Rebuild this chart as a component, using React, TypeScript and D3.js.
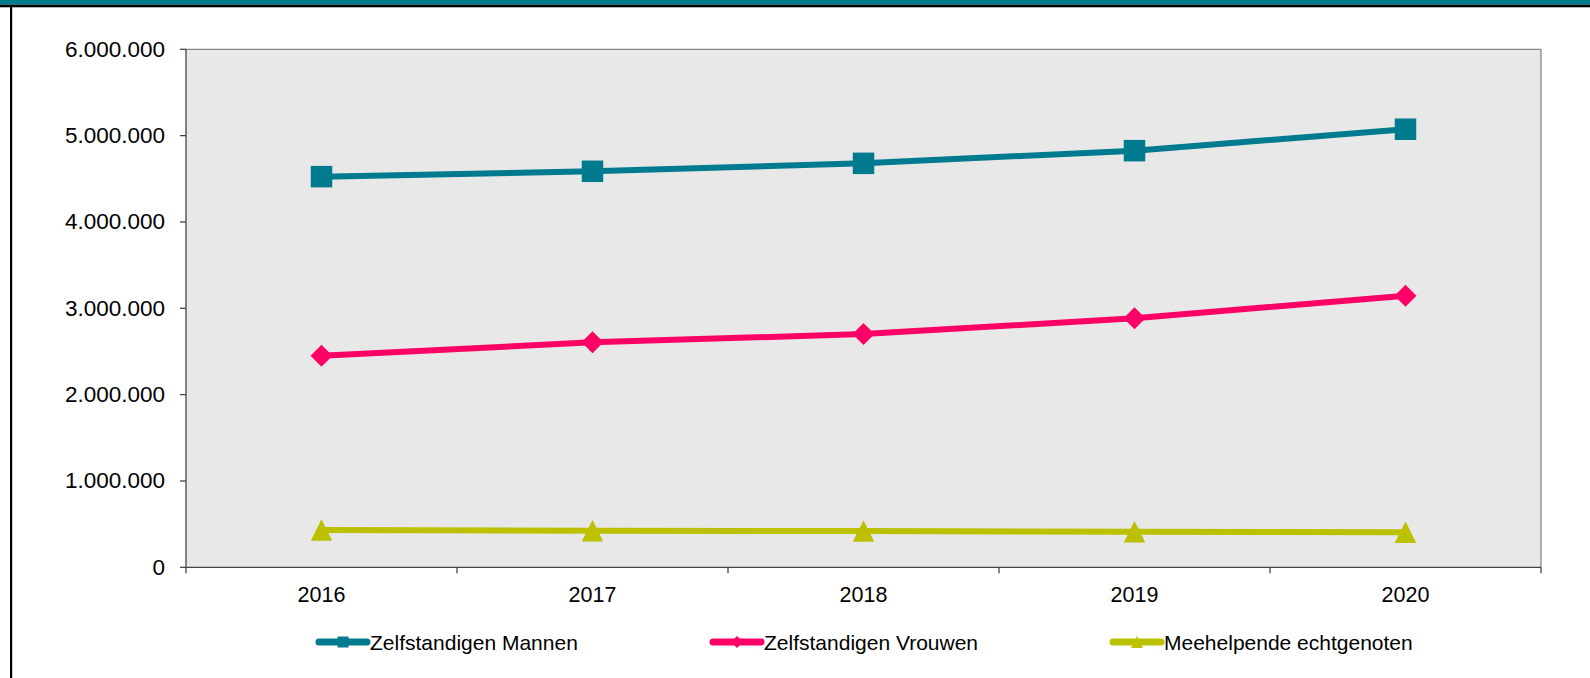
import React from "react";
import * as d3 from "d3";

const years = ["2016", "2017", "2018", "2019", "2020"];
const mannen = [4525000, 4587000, 4679000, 4826000, 5074000];
const vrouwen = [2451000, 2606000, 2702000, 2884000, 3146000];
const meehelpende = [432000, 424000, 420000, 412000, 405000];
const yTicks = [0, 1000000, 2000000, 3000000, 4000000, 5000000, 6000000];
const seriesNames = ["Zelfstandigen Mannen", "Zelfstandigen Vrouwen", "Meehelpende echtgenoten"];

const W = 1590;
const H = 678;
const left = 186;
const right = 1541;
const top = 49.3;
const bottom = 567.3;
const font = "'Liberation Sans', Arial, sans-serif";

const colors = ["#007A8F", "#FF0066", "#BBC000"];

function fmt(v: number) {
  if (v === 0) return "0";
  return d3.format(",")(v).replace(/,/g, ".");
}

function Marker({ kind, x, y, s, color }: { kind: number; x: number; y: number; s: number; color: string }) {
  if (kind === 0) return <rect x={x - s / 2} y={y - s / 2} width={s} height={s} fill={color} />;
  if (kind === 1) {
    const h = s / 2;
    return <path d={`M${x},${y - h}L${x + h},${y}L${x},${y + h}L${x - h},${y}Z`} fill={color} />;
  }
  const h = s / 2;
  return <path d={`M${x},${y - h}L${x + h},${y + h}L${x - h},${y + h}Z`} fill={color} />;
}

export default function App() {
  const x = d3.scaleBand<string>().domain(years).range([left, right]);
  const y = d3.scaleLinear().domain([0, 6000000]).range([bottom, top]);
  const data = [mannen, vrouwen, meehelpende];
  const line = d3
    .line<number>()
    .x((_, i) => (x(years[i]) as number) + x.bandwidth() / 2)
    .y((v) => y(v));

  const boundaries = years.map((yr) => x(yr) as number).concat([right]);
  const legendX = [319, 713, 1113];
  const legendY = 642;

  return (
    <div style={{ position: "absolute", left: 0, top: 0 }}>
      <svg width={W} height={H} style={{ display: "block", fontFamily: font }}>
        <rect x={0} y={0} width={W} height={H} fill="#ffffff" />
        <rect x={0} y={0} width={W} height={4.7} fill="#007A8F" />
        <rect x={0} y={4.7} width={W} height={2.6} fill="#000000" />
        <rect x={10} y={7} width={2.2} height={H - 7} fill="#000000" />

        <rect x={left} y={top} width={right - left} height={bottom - top} fill="#E8E8E8" />
        <line x1={left} y1={top} x2={right} y2={top} stroke="#888888" strokeWidth={1.3} />
        <line x1={right} y1={top} x2={right} y2={bottom} stroke="#888888" strokeWidth={1.3} />
        <line x1={left} y1={top} x2={left} y2={bottom} stroke="#444444" strokeWidth={1.3} />
        <line x1={left} y1={bottom} x2={right} y2={bottom} stroke="#444444" strokeWidth={1.3} />

        {yTicks.map((t) => (
          <g key={t}>
            <line x1={left - 6} x2={left} y1={y(t)} y2={y(t)} stroke="#444444" strokeWidth={1.3} />
            <text x={165} y={y(t)} textAnchor="end" dominantBaseline="central" fontSize={22.5} fill="#000">
              {fmt(t)}
            </text>
          </g>
        ))}

        {boundaries.map((b, i) => (
          <line key={i} x1={b} x2={b} y1={bottom} y2={bottom + 6} stroke="#444444" strokeWidth={1.3} />
        ))}
        {years.map((yr) => (
          <text
            key={yr}
            x={(x(yr) as number) + x.bandwidth() / 2}
            y={595}
            textAnchor="middle"
            dominantBaseline="central"
            fontSize={21.5}
            fill="#000"
          >
            {yr}
          </text>
        ))}

        {data.map((vals, si) => (
          <g key={si}>
            <path d={line(vals) || ""} fill="none" stroke={colors[si]} strokeWidth={6} strokeLinejoin="round" />
            {vals.map((v, i) => (
              <Marker
                key={i}
                kind={si}
                x={(x(years[i]) as number) + x.bandwidth() / 2}
                y={y(v)}
                s={si === 1 ? 22 : 21.5}
                color={colors[si]}
              />
            ))}
          </g>
        ))}

        {seriesNames.map((name, si) => (
          <g key={name}>
            <line
              x1={legendX[si]}
              x2={legendX[si] + 48}
              y1={legendY}
              y2={legendY}
              stroke={colors[si]}
              strokeWidth={7}
              strokeLinecap="round"
            />
            <Marker kind={si} x={legendX[si] + 24} y={legendY} s={si === 0 ? 11 : 12} color={colors[si]} />
            <text x={legendX[si] + 51} y={legendY} dominantBaseline="central" fontSize={21} fill="#000">
              {name}
            </text>
          </g>
        ))}
      </svg>
    </div>
  );
}
